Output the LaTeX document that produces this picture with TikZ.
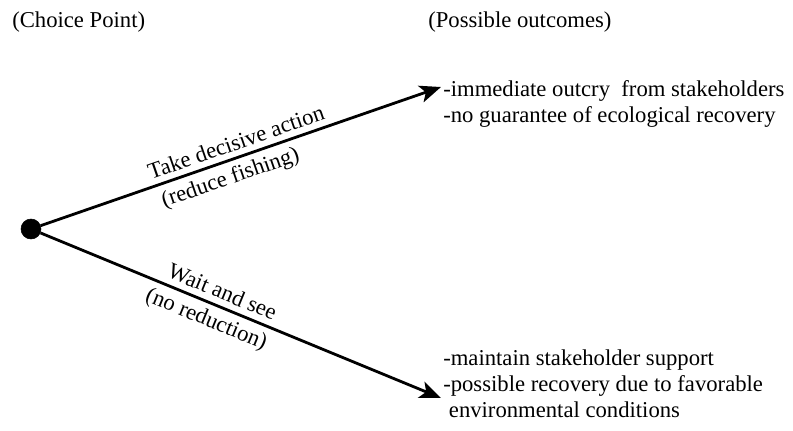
\documentclass[tikz,border=0pt]{standalone}
\usepackage{fontspec}
\setmainfont{Liberation Serif}
\usetikzlibrary{arrows.meta}
\tikzset{
  branch/.style={line width=2.1pt, -{Stealth[length=16pt,width=13pt,inset=4pt]}},
  outcome/.style={anchor=north west, align=left, inner sep=0pt},
}
\begin{document}
\begin{tikzpicture}[x=0.75pt, y=-0.75pt, font=\fontsize{17}{19.5}\selectfont]
            \useasboundingbox (0,0) rectangle (793,430);
            \node [anchor=base west, inner sep=0pt] (choice) at (12,27) {(Choice Point)};
            \node [anchor=base west, inner sep=0pt] (outcomes) at (428,27) {(Possible outcomes)};

            \node [draw, shape = circle, fill = black, minimum size = 15pt, inner sep=0pt] (cp) at (31,229) {};
            \coordinate (act) at (441,87);
            \coordinate (wait) at (441,398);

            \node [outcome] (actout) at (443,80) {-immediate outcry\ \ from stakeholders\\-no guarantee of ecological recovery};
            \node [outcome] (waitout) at (443,349) {-maintain stakeholder support\\-possible recovery due to favorable\\\ environmental conditions};

            \draw[branch] (cp) -- (act)
                node[pos=0.5, sloped, above=1pt]{Take decisive action}
                node[pos=0.46, sloped, below=1pt]{(reduce fishing)};
            \draw[branch] (cp) -- (wait)
                node[pos=0.44, sloped, above=1pt]{Wait and see}
                node[pos=0.43, sloped, below=1pt]{(no reduction)};
            \end{tikzpicture}
\end{document}
